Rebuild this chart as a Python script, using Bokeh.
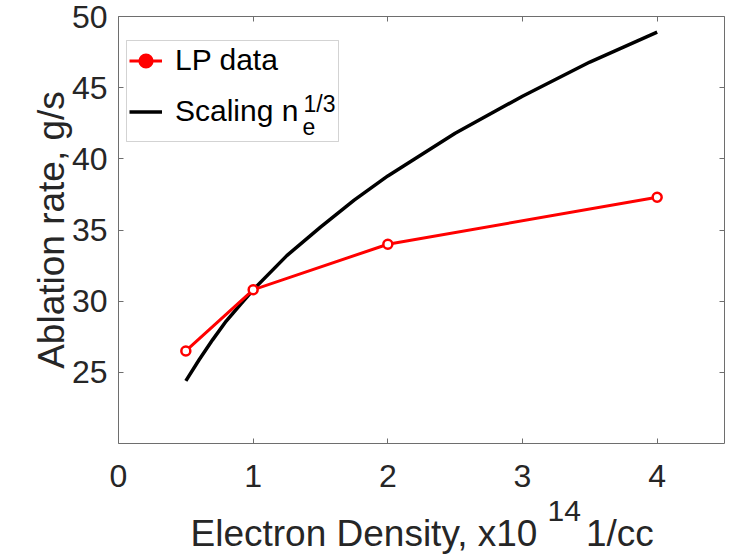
from bokeh.plotting import figure
from bokeh.models import (ColumnDataSource, Legend, LegendItem, Label, BoxAnnotation,
                          LinearAxis, FixedTicker, CustomJSTickFormatter, Range1d, Title)
from bokeh.embed import file_html
from bokeh.resources import INLINE

# ---- data ----
density_lp = [0.5, 1.0, 2.0, 4.0]
ablation_lp = [26.5, 30.8, 34.0, 37.3]
density_scaling = [0.5, 0.6, 0.7, 0.8, 0.9, 1.0, 1.25, 1.5, 1.75, 2.0, 2.5, 3.0, 3.5, 4.0]
ablation_scaling = [24.4, 25.9, 27.3, 28.6, 29.7, 30.8, 33.2, 35.2, 37.1, 38.8, 41.8, 44.4, 46.8, 48.9]
x_ticks = [0, 1, 2, 3, 4]
y_ticks = [25, 30, 35, 40, 45, 50]
x_range = (0, 4.5)
y_range = (20, 50)

FONT = "Liberation Sans"
TXT = "#262626"
AX = "#6e6e6e"

p = figure(width=738, height=556, x_range=Range1d(*x_range), y_range=Range1d(*y_range),
           output_backend="svg", toolbar_location=None,
           min_border_left=118, min_border_right=14, min_border_top=16, min_border_bottom=113)
p.xgrid.visible = False
p.ygrid.visible = False
p.outline_line_color = None
p.background_fill_color = "white"
p.border_fill_color = "white"

xa = p.xaxis[0]
xa.ticker = FixedTicker(ticks=x_ticks)
ya = p.yaxis[0]
ya.ticker = FixedTicker(ticks=y_ticks)
for ax, so in ((xa, 21), (ya, 11)):
    ax.axis_line_color = AX
    ax.major_tick_line_color = AX
    ax.major_tick_in = 5
    ax.major_tick_out = 0
    ax.minor_tick_line_color = None
    ax.major_label_text_font = FONT
    ax.major_label_text_color = TXT
    ax.major_label_text_font_size = "32px"
    ax.major_label_standoff = so

ya.axis_label = "Ablation rate, g/s"
ya.axis_label_text_font = FONT
ya.axis_label_text_font_size = "37px"
ya.axis_label_text_font_style = "normal"
ya.axis_label_text_color = TXT
ya.axis_label_standoff = -3

blank = CustomJSTickFormatter(code="return ''")
for loc, ticks in (("above", x_ticks), ("right", y_ticks)):
    ax = LinearAxis(ticker=FixedTicker(ticks=ticks), formatter=blank)
    ax.axis_line_color = AX
    ax.major_tick_line_color = AX
    ax.major_tick_in = 5
    ax.major_tick_out = 0
    ax.minor_tick_line_color = None
    ax.major_label_text_font_size = "0px"
    ax.major_label_standoff = 0
    p.add_layout(ax, loc)

# x-axis label: "Electron Density, x10^14 1/cc" (superscript as its own text)
p.add_layout(Title(text="14", align="left", offset=429, standoff=20.5, vertical_align="middle",
                   text_font=FONT, text_font_size="30px", text_font_style="normal",
                   text_color=TXT), "below")
p.add_layout(Title(text="Electron Density, x10" + "\u00a0" * 4 + "\u2009" + "1/cc", align="left",
                   offset=72, standoff=-41.6, vertical_align="middle",
                   text_font=FONT, text_font_size="37px", text_font_style="normal",
                   text_color=TXT), "below")

# ---- glyphs ----
scal = ColumnDataSource(dict(x=density_scaling, y=ablation_scaling))
lp = ColumnDataSource(dict(x=density_lp, y=ablation_lp))
black = p.line("x", "y", source=scal, line_color="black", line_width=3.5)
red_line = p.line("x", "y", source=lp, line_color="red", line_width=3)
p.scatter("x", "y", source=lp, marker="circle", size=9, fill_color="white",
          line_color="red", line_width=2.5)
legend_dot = p.scatter("x", "y", source=lp, marker="circle", size=5, fill_color="red",
                       line_color="red", line_width=2, visible=False)

legend = Legend(items=[LegendItem(label="LP data", renderers=[red_line, legend_dot]),
                       LegendItem(label="Scaling n", renderers=[black])],
                location=(8, 312), padding=3, spacing=17, margin=0,
                glyph_width=33, glyph_height=33, label_height=33, label_standoff=13,
                label_text_font=FONT, label_text_font_size="30px", label_text_color="black",
                border_line_alpha=0, background_fill_alpha=0,
                inactive_fill_alpha=0, click_policy="none")
p.add_layout(legend)

p.add_layout(BoxAnnotation(left=8, right=220, top=403, bottom=302,
                           left_units="screen", right_units="screen",
                           top_units="screen", bottom_units="screen",
                           fill_alpha=0, line_color=AX, line_width=1))

def lab(text, x, y, size):
    p.add_layout(Label(text=text, x=x, y=y, x_units="screen", y_units="screen",
                       text_font=FONT, text_font_size=size, text_color="black",
                       text_baseline="alphabetic"))

lab("e", 184, 317, "23px")
lab("1/3", 185, 340, "23px")

open("out.html", "w").write(file_html(p, INLINE))
